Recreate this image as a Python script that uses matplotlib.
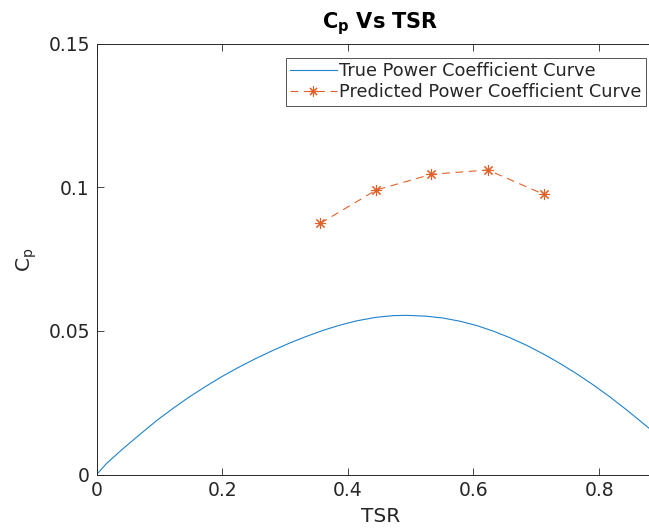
import matplotlib
matplotlib.use("Agg")
import matplotlib.pyplot as plt

plt.rcParams['font.family'] = ['DejaVu Sans']
plt.rcParams['mathtext.fontset'] = 'dejavusans'

# True power coefficient curve
tsr_true = [0.0, 0.0159, 0.0424, 0.0690, 0.0955, 0.1220, 0.1486, 0.1751, 0.2016, 0.2282,
            0.2547, 0.2813, 0.3078, 0.3344, 0.3609, 0.3874, 0.4140, 0.4458, 0.4724, 0.4936,
            0.5254, 0.5520, 0.5785, 0.6051, 0.6316, 0.6581, 0.6847, 0.7112, 0.7377, 0.7643,
            0.7908, 0.8174, 0.8439, 0.8795, 0.9000]
cp_true = [0.0, 0.0039, 0.0091, 0.0140, 0.0188, 0.0231, 0.0272, 0.0309, 0.0344, 0.0376,
           0.04056, 0.04330, 0.04585, 0.04816, 0.05025, 0.05205, 0.05355, 0.05480, 0.05535, 0.05546,
           0.05515, 0.05450, 0.05340, 0.05190, 0.04995, 0.04765, 0.04500, 0.04200, 0.03870, 0.03510,
           0.03120, 0.02700, 0.02250, 0.01612, 0.0122]

# Predicted power coefficient curve
tsr_pred = [0.356, 0.445, 0.533, 0.623, 0.712]
cp_pred = [0.0875, 0.0991, 0.1046, 0.1061, 0.0976]

xticks = [0, 0.2, 0.4, 0.6, 0.8]
xticklabels = ['0', '0.2', '0.4', '0.6', '0.8']
yticks = [0, 0.05, 0.1, 0.15]
yticklabels = ['0', '0.05', '0.1', '0.15']

W, H = 649, 532
fig = plt.figure(figsize=(W / 100, H / 100), dpi=100)
x0, x1 = 96.7, 96.7 + 628
y0, y1 = 474.5, 44
ax = fig.add_axes([x0 / W, 1 - y0 / H, (x1 - x0) / W, (y0 - y1) / H])

ax.plot(tsr_true, cp_true, color='#1F82CC', lw=0.8, label='True Power Coefficient Curve')
ax.plot(tsr_pred, cp_pred, color='#E0622A', lw=0.8, ls=(0, (7, 5)), marker=(8, 2, 0),
        markersize=8, markeredgewidth=0.8, label='Predicted Power Coefficient Curve')

ax.set_xlim(0, 1)
ax.set_ylim(0, 0.15)
ax.set_xticks(xticks)
ax.set_xticklabels(xticklabels)
ax.set_yticks(yticks)
ax.set_yticklabels(yticklabels)
ax.tick_params(direction='in', top=True, right=True, length=5, width=0.6,
               colors='#262626', labelsize=13.5, labelcolor='#262626', pad=5)
for s in ax.spines.values():
    s.set_color('#262626')
    s.set_linewidth(0.7)

fig.text(380 / W, 1 - 28.5 / H, r'$\mathbf{C_p}$ Vs TSR', ha='center', va='baseline',
         fontsize=15, fontweight='bold', color='black')
fig.text(381 / W, 1 - 517 / H, 'TSR', ha='center', va='center', fontsize=14.5, color='#262626')
fig.text(27 / W, 1 - 260 / H, r'C$_\mathrm{p}$', ha='center', va='center', rotation=90,
         fontsize=14.5, color='#262626')

leg = ax.legend(loc='upper right', bbox_to_anchor=(646 / W, 1 - 58 / H),
                bbox_transform=fig.transFigure, fontsize=12.8, frameon=True, fancybox=False,
                handlelength=2.6, handletextpad=0.15, borderpad=0.25, labelspacing=0.15,
                borderaxespad=0, markerscale=0.9)
leg.get_frame().set_edgecolor('#262626')
leg.get_frame().set_linewidth(0.7)
for t in leg.get_texts():
    t.set_color('#262626')

fig.savefig('out.png', dpi=100)
